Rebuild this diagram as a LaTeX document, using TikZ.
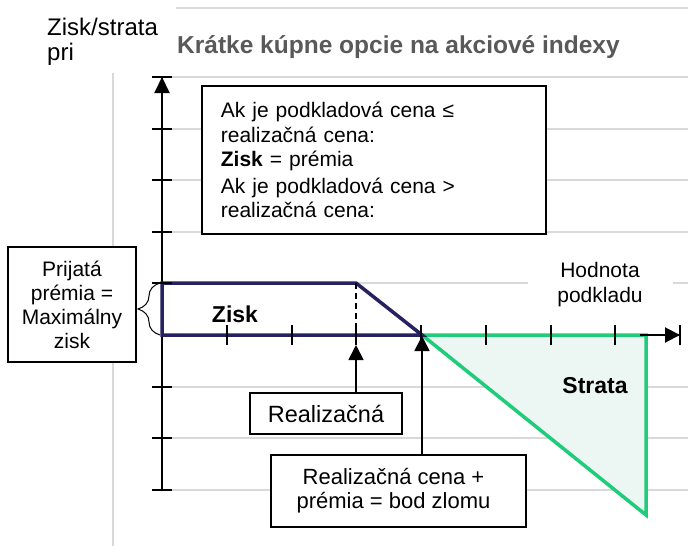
\documentclass[tikz,border=0pt]{standalone}
\usepackage{fontspec}
\setmainfont{Liberation Sans}
\usetikzlibrary{arrows.meta,decorations.pathreplacing}
\definecolor{navyline}{RGB}{38,34,98}
\definecolor{lossgreen}{RGB}{30,204,122}
\definecolor{lossfill}{RGB}{236,246,242}
\definecolor{gridgray}{RGB}{217,217,217}
\definecolor{titlegray}{RGB}{89,89,89}
\begin{document}
\begin{tikzpicture}[x=1pt,y=-1pt,
  gridline/.style={draw=gridgray,line width=1.5pt},
  axisline/.style={draw=black,line width=2pt},
  tickmark/.style={draw=black,line width=2pt},
  callout/.style={draw=black,line width=1.8pt,fill=white,inner sep=0pt,align=center},
  ptr/.style={draw=black,line width=1.8pt,-{Triangle[length=15pt,width=15pt]}},
  dashline/.style={draw=black,line width=2pt,dash pattern=on 6pt off 4pt},
]
\useasboundingbox (0,0) rectangle (688,546);
\fill[white] (0,0) rectangle (688,546);

% frame and grid
\draw[gridline] (176,8) -- (688,8);
\draw[gridline] (113,73) -- (113,546);
\foreach \y in {77,129,180,232,283,387,438,490} \draw[gridline] (162,\y) -- (688,\y);

% axes
\coordinate (origin) at (162,335);
\coordinate (ytop) at (162,77);
\coordinate (ybot) at (162,490);
\coordinate (xend) at (680,335);
\draw[axisline] (ybot) -- (ytop);
\draw[axisline] (origin) -- (xend);

% loss triangle
\filldraw[fill=lossfill, draw=lossgreen, line width=3.5pt] (422,335) -- (646,335) -- (646,515) -- cycle;
% gain area
\draw[navyline, line width=3.5pt] (162,283) -- (356,283) -- (422,335) -- (162,335) -- cycle;
\draw[dashline] (356,283) -- (356,335);

% ticks
\foreach \x in {227,292,356,421,486,551,615,680} \draw[tickmark] (\x,325) -- (\x,345);
\foreach \y in {77,129,180,232,283,387,438,490} \draw[tickmark] (152,\y) -- (172,\y);
\draw[-{Triangle[length=16pt,width=15pt]}, draw=black, line width=2pt] (162,100) -- (ytop);
\draw[-{Triangle[length=15pt,width=15pt]}, draw=black, line width=2pt] (640,335) -- (xend);

% brace
\draw[line width=1pt, decorate, decoration={brace, amplitude=22pt}] (160,335) -- (160,283);

% texts
\node[anchor=base west, text=titlegray, inner sep=0pt, font=\fontsize{24.5}{28}\selectfont\bfseries] (title) at (177,53) {Krátke kúpne opcie na akciové indexy};
\node[anchor=north west, inner sep=0pt, align=left, font=\fontsize{24}{25}\selectfont] (ylabel) at (47,17.5) {Zisk/strata\\pri};
\node[fill=white, minimum width=145, inner sep=0pt, align=center, font=\fontsize{21}{25}\selectfont] (xlabel) at (600,284.5) {Hodnota\\podkladu};
\node[anchor=base, inner sep=0pt, font=\fontsize{23}{27}\selectfont\bfseries] (gain) at (235,322) {Zisk};
\node[anchor=base, inner sep=0pt, font=\fontsize{23}{27}\selectfont\bfseries] (loss) at (595,393) {Strata};

% boxes
\node[callout, align=left, anchor=north west, inner xsep=19pt, inner ysep=0pt, text width=306, minimum height=148, font=\fontsize{21}{24.5}\selectfont] (rule) at (201,85)
  {Ak je podkladová cena ≤\\realizačná cena:\\\textbf{Zisk} = prémia\\[2pt]Ak je podkladová cena >\\realizačná cena:};
\node[callout, minimum width=128, minimum height=115, font=\fontsize{21}{24}\selectfont] (premium) at (72,304.5) {Prijatá\\prémia =\\Maximálny\\zisk};
\node[callout, minimum width=152, minimum height=41, font=\fontsize{23.5}{27}\selectfont] (strike) at (326,413.5) {Realizačná};
\node[callout, minimum width=255, minimum height=72, font=\fontsize{22}{24}\selectfont] (breakeven) at (398.5,491) {Realizačná cena +\hspace*{10pt}\\prémia = bod zlomu\hspace*{10pt}};

% pointers
\coordinate (strikept) at (356,345);
\coordinate (bept) at (422,336);
\draw[ptr] (strike.north -| strikept) -- (strikept);
\draw[ptr] (breakeven.north -| bept) -- (bept);
\end{tikzpicture}
\end{document}
